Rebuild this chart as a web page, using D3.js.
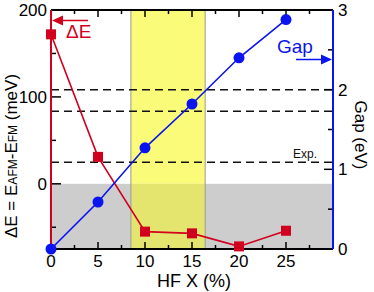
<!DOCTYPE html>
<html>
<head>
<meta charset="utf-8">
<title>HF X dependence of dE and gap</title>
<script src="https://d3js.org/d3.v7.min.js"></script>
<style>
body { margin: 0; background: #fff; }
text { font-family: "Liberation Sans", Arial, sans-serif; }
</style>
</head>
<body>
<div id="chart"></div>
<script>
// data
var hfX = [0, 5, 10, 15, 20, 25];
var deltaE = [172, 31, -55, -57, -72, -54];     // meV, left axis
var gap = [0, 0.59, 1.27, 1.82, 2.40, 2.88];     // eV, right axis
var expLines = [2.0, 1.73, 1.09];               // eV, dashed reference lines
var bandX = [8.5, 16.4];                        // highlighted HF range
var leftTicks = [-50, 0, 50, 100, 150, 200];
var leftLabels = [0, 100, 200];
var rightTicks = [0, 0.5, 1, 1.5, 2, 2.5, 3];
var rightLabels = [0, 1, 2, 3];
var xTicks = [0, 2.5, 5, 7.5, 10, 12.5, 15, 17.5, 20, 22.5, 25, 27.5, 30];
var xLabels = [0, 5, 10, 15, 20, 25];

var W = 374, H = 292;
var m = {left: 51, right: 333, top: 10, bottom: 249};
var red = "#d0001e", blue = "#0a14f0";

var svg = d3.select("#chart").append("svg")
    .attr("width", W).attr("height", H);

var x = d3.scaleLinear().domain([0, 30]).range([m.left, m.right]);
var yL = d3.scaleLinear().domain([-75, 200]).range([m.bottom, m.top]);
var yR = d3.scaleLinear().domain([0, 3]).range([m.bottom, m.top]);

// gray region (dE < 0)
svg.append("rect")
    .attr("x", x(0)).attr("y", yL(0))
    .attr("width", x(30) - x(0)).attr("height", yL(-75) - yL(0))
    .attr("fill", "#cdcdcd");

// yellow band
svg.append("rect")
    .attr("x", x(bandX[0])).attr("y", m.top)
    .attr("width", x(bandX[1]) - x(bandX[0])).attr("height", yL(0) - m.top)
    .attr("fill", "#fbfb7a");
svg.append("rect")
    .attr("x", x(bandX[0])).attr("y", yL(0))
    .attr("width", x(bandX[1]) - x(bandX[0])).attr("height", m.bottom - yL(0))
    .attr("fill", "#e4e56e");
bandX.forEach(function(v){
    svg.append("line")
        .attr("x1", x(v)).attr("x2", x(v))
        .attr("y1", m.top).attr("y2", m.bottom)
        .attr("stroke", "#999").attr("stroke-width", 1);
});

// dashed lines
svg.selectAll(".dash").data(expLines).enter().append("line")
    .attr("x1", m.left).attr("x2", m.right)
    .attr("y1", function(d){ return yR(d); })
    .attr("y2", function(d){ return yR(d); })
    .attr("stroke", "#111").attr("stroke-width", 1.5)
    .attr("stroke-dasharray", "8,5");

svg.append("text")
    .attr("x", 293).attr("y", 158)
    .attr("font-size", 12).attr("fill", "#111")
    .text("Exp.");

// ticks
function tickMarks(vals, major, pos, dir, vertical, lenMaj, lenMin){
    vals.forEach(function(v){
        var len = major.indexOf(v) >= 0 ? lenMaj : lenMin;
        var l = svg.append("line").attr("stroke", "#000").attr("stroke-width", 1.5);
        if (vertical) {
            l.attr("x1", pos).attr("x2", pos + dir * len).attr("y1", v).attr("y2", v);
        } else {
            l.attr("y1", pos).attr("y2", pos + dir * len).attr("x1", v).attr("x2", v);
        }
    });
}
tickMarks(xTicks.map(x), xLabels.map(x), m.bottom, -1, false, 7, 4);
tickMarks(xTicks.map(x), xLabels.map(x), m.top, 1, false, 7, 4);
tickMarks(leftTicks.map(yL), leftLabels.map(yL), m.left, 1, true, 10, 5);
tickMarks(rightTicks.map(yR), rightLabels.map(yR), m.right, -1, true, 9, 5);

// frame
svg.append("line").attr("x1", m.left).attr("x2", m.right).attr("y1", m.top).attr("y2", m.top)
    .attr("stroke", "#000").attr("stroke-width", 2);
svg.append("line").attr("x1", m.left).attr("x2", m.right).attr("y1", m.bottom).attr("y2", m.bottom)
    .attr("stroke", "#000").attr("stroke-width", 2);
svg.append("line").attr("x1", m.left).attr("x2", m.left).attr("y1", m.top).attr("y2", m.bottom)
    .attr("stroke", red).attr("stroke-width", 2);
svg.append("line").attr("x1", m.right).attr("x2", m.right).attr("y1", m.top).attr("y2", m.bottom)
    .attr("stroke", blue).attr("stroke-width", 2);

// tick labels
svg.selectAll(".xl").data(xLabels).enter().append("text")
    .attr("x", function(d){ return x(d); }).attr("y", 267)
    .attr("text-anchor", "middle").attr("font-size", 17)
    .text(function(d){ return d; });
svg.selectAll(".yl").data(leftLabels).enter().append("text")
    .attr("x", 47).attr("y", function(d){ return yL(d) + 6; })
    .attr("text-anchor", "end").attr("font-size", 17)
    .text(function(d){ return d; });
svg.selectAll(".yr").data(rightLabels).enter().append("text")
    .attr("x", 338).attr("y", function(d){ return yR(d) + 6; })
    .attr("font-size", 17)
    .text(function(d){ return d; });

// series
var lineE = d3.line().x(function(d, i){ return x(hfX[i]); }).y(function(d){ return yL(d); });
var lineG = d3.line().x(function(d, i){ return x(hfX[i]); }).y(function(d){ return yR(d); });

svg.append("path").datum(deltaE).attr("d", lineE)
    .attr("fill", "none").attr("stroke", red).attr("stroke-width", 1.6);
svg.selectAll(".sq").data(deltaE).enter().append("rect")
    .attr("x", function(d, i){ return x(hfX[i]) - 5; })
    .attr("y", function(d){ return yL(d) - 5; })
    .attr("width", 10).attr("height", 10).attr("fill", red);

svg.append("path").datum(gap).attr("d", lineG)
    .attr("fill", "none").attr("stroke", blue).attr("stroke-width", 1.6);
svg.selectAll(".ci").data(gap).enter().append("circle")
    .attr("cx", function(d, i){ return x(hfX[i]); })
    .attr("cy", function(d){ return yR(d); })
    .attr("r", 5.5).attr("fill", blue);

// arrows
svg.append("line").attr("x1", 88).attr("x2", 60).attr("y1", 20.5).attr("y2", 20.5)
    .attr("stroke", red).attr("stroke-width", 1.5);
svg.append("path").attr("d", "M52,20.5 L63,15.5 L63,25.5 Z").attr("fill", red);
svg.append("text").attr("x", 66).attr("y", 38).attr("font-size", 19).attr("fill", red).text("ΔE");

svg.append("line").attr("x1", 296).attr("x2", 324).attr("y1", 59.5).attr("y2", 59.5)
    .attr("stroke", blue).attr("stroke-width", 1.5);
svg.append("path").attr("d", "M332,59.5 L321,54.5 L321,64.5 Z").attr("fill", blue);
svg.append("text").attr("x", 277).attr("y", 53).attr("font-size", 19).attr("fill", blue).text("Gap");

// axis titles
svg.append("text")
    .attr("x", 194).attr("y", 287)
    .attr("text-anchor", "middle").attr("font-size", 18)
    .text("HF X (%)");

var yt = svg.append("text")
    .attr("transform", "translate(17,156) rotate(-90)")
    .attr("text-anchor", "middle").attr("font-size", 17);
yt.append("tspan").text("ΔE = E");
yt.append("tspan").attr("font-size", 12).text("AFM");
yt.append("tspan").text("-E");
yt.append("tspan").attr("font-size", 12).text("FM");
yt.append("tspan").text(" (meV)");

svg.append("text")
    .attr("transform", "translate(355,135) rotate(90)")
    .attr("text-anchor", "middle").attr("font-size", 17)
    .text("Gap (eV)");
</script>
</body>
</html>
